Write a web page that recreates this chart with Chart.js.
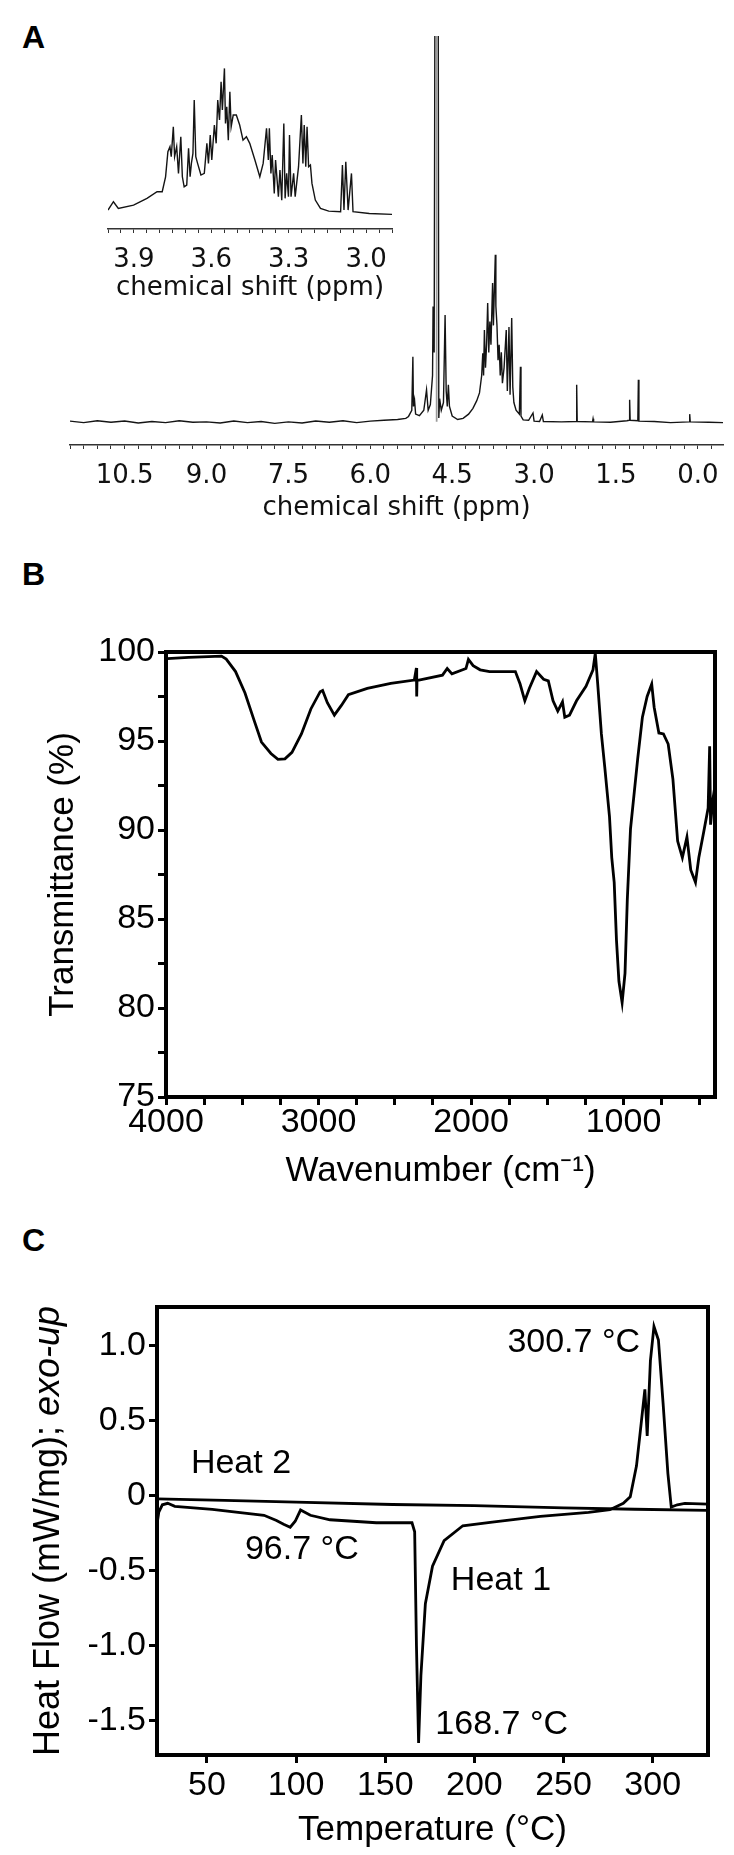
<!DOCTYPE html>
<html>
<head>
<meta charset="utf-8">
<script src="https://cdn.jsdelivr.net/npm/chart.js@4.4.1/dist/chart.umd.min.js"></script>
<style>
  html, body { margin: 0; padding: 0; background: #fff; }
  body { width: 734px; height: 1855px; position: relative; overflow: hidden; }
  canvas { position: absolute; }
  .letter { position: absolute; left: 22px; font: bold 32px "Liberation Sans", Arial, sans-serif; line-height: 1; color: #000; }
</style>
</head>
<body>
<div class="letter" style="top:21px">A</div>
<div class="letter" style="top:558px">B</div>
<div class="letter" style="top:1224px">C</div>

<canvas id="nmr" width="734" height="530" style="left:0;top:0"></canvas>
<canvas id="inset" width="320" height="280" style="left:90px;top:40px"></canvas>
<canvas id="ftir" width="734" height="610" style="left:0;top:590px"></canvas>
<canvas id="dsc" width="734" height="655" style="left:0;top:1200px"></canvas>

<script>
// ---- A: 1H NMR (main spectrum) ----
const nmrShift = [11.5, 11.25, 11.0, 10.75, 10.5, 10.25, 10.0, 9.75, 9.5, 9.25, 9.0, 8.75, 8.5, 8.25, 8.0,
  7.75, 7.5, 7.25, 7.0, 6.75, 6.5, 6.25, 6.0, 5.75, 5.5, 5.35, 5.30, 5.24, 5.22, 5.21, 5.19, 5.17, 5.10,
  5.02, 4.97, 4.94, 4.90, 4.86, 4.85, 4.83, 4.81, 4.76, 4.745, 4.73, 4.70, 4.66, 4.63, 4.61, 4.59, 4.57,
  4.55, 4.50, 4.40, 4.30, 4.20, 4.12, 4.05, 4.00, 3.96, 3.94, 3.925, 3.91, 3.89, 3.87, 3.85, 3.83, 3.81,
  3.79, 3.76, 3.745, 3.71, 3.70, 3.68, 3.66, 3.64, 3.62, 3.60, 3.58, 3.55, 3.51, 3.49, 3.46, 3.44, 3.41,
  3.39, 3.37, 3.33, 3.27, 3.25, 3.24, 3.20, 3.10, 3.02, 3.00, 2.90, 2.85, 2.83, 2.50, 2.23, 2.22, 2.21,
  1.93, 1.92, 1.91, 1.60, 1.30, 1.26, 1.25, 1.24, 1.10, 1.09, 1.08, 0.80, 0.50, 0.16, 0.15, 0.14, -0.20, -0.46];
const nmrIntensity = [0.2, -0.2, 0.3, -0.1, 0.2, -0.3, 0.1, -0.2, 0.3, -0.1, 0.0, -0.3, 0.2, -0.2, 0.1,
  -0.4, 0.0, -0.3, 0.2, -0.1, 0.3, -0.2, 0.2, 0.4, 0.6, 0.9, 1.4, 3.0, 16.9, 4.0, 5.7, 2.0, 1.6,
  3.0, 8.3, 3.0, 4.5, 12.0, 29.9, 18.0, 150, 150, 1.0, 6.0, 3.0, 5.0, 27.7, 8.0, 4.0, 9.6,
  4.0, 1.5, 0.6, 0.9, 2.0, 3.5, 5.5, 7.5, 12.0, 17.8, 12.0, 23.8, 14.0, 20.0, 30.8, 18.0, 26.0,
  20.0, 36.0, 25.0, 43.3, 30.0, 25.0, 16.0, 20.0, 12.0, 18.0, 10.0, 14.0, 23.8, 8.0, 24.6, 7.0, 26.9,
  9.0, 5.0, 3.0, 2.0, 14.3, 1.5, 0.5, 0.4, 2.3, 0.2, 0.1, 1.8, 0.1, 0.0, 0.1, 9.6, 0.1,
  0.0, 0.8, 0.0, -0.1, 0.3, 0.4, 5.7, 0.4, 0.3, 10.9, 0.2, 0.1, -0.2, 0.0, 2.0, 0.0, -0.1, -0.2];
// solvent (HDO) peak body, runs off the top
const waterShift = [4.805, 4.805, 4.765, 4.765];
const waterIntensity = [0, 150, 150, 0];
const nmrLabelled = [10.5, 9.0, 7.5, 6.0, 4.5, 3.0, 1.5, 0.0];

// ---- A: inset 4.0-2.9 ppm ----
const insetShift = [4.00, 3.979, 3.960, 3.901, 3.849, 3.810, 3.790, 3.777, 3.768, 3.760, 3.755, 3.747,
  3.742, 3.734, 3.727, 3.718, 3.712, 3.705, 3.695, 3.688, 3.682, 3.677, 3.671, 3.666, 3.660, 3.653,
  3.640, 3.627, 3.617, 3.611, 3.604, 3.598, 3.588, 3.581, 3.575, 3.568, 3.562, 3.557, 3.549, 3.545,
  3.540, 3.534, 3.528, 3.523, 3.515, 3.503, 3.490, 3.477, 3.464, 3.451, 3.431, 3.412, 3.399, 3.386,
  3.379, 3.375, 3.369, 3.364, 3.356, 3.351, 3.340, 3.334, 3.327, 3.319, 3.314, 3.308, 3.301, 3.297,
  3.291, 3.281, 3.275, 3.262, 3.251, 3.245, 3.240, 3.234, 3.229, 3.223, 3.216, 3.210, 3.197, 3.177,
  3.145, 3.099, 3.092, 3.086, 3.079, 3.070, 3.057, 3.051, 2.988, 2.90];
const insetIntensity = [3.4, 9.1, 4.5, 6.8, 11.4, 15.9, 15.9, 26.1, 43.2, 46.6, 39.8, 60.2,
  39.8, 46.6, 28.4, 53.4, 26.1, 19.3, 20.5, 45.5, 26.1, 35.2, 42.0, 78.4, 39.8, 35.2,
  27.3, 28.4, 48.9, 35.2, 54.5, 37.5, 61.4, 48.9, 78.4, 64.8, 90.9, 71.6, 100, 62.5,
  73.9, 51.1, 84.1, 60.2, 68.2, 68.2, 61.4, 51.1, 53.4, 48.9, 37.5, 26.1, 35.2, 59.1,
  37.5, 59.1, 28.4, 40.9, 14.8, 37.5, 12.5, 30.7, 10.2, 62.5, 11.4, 28.4, 12.5, 54.5,
  12.5, 28.4, 12.5, 33.0, 68.2, 35.2, 61.4, 33.0, 60.2, 33.0, 34.1, 21.6, 10.2, 4.5,
  2.7, 2.3, 34.1, 3.4, 36.4, 3.4, 28.4, 2.3, 1.1, 0.5];
const insetLabelled = [3.9, 3.6, 3.3, 3.0];

// ---- B: FTIR ----
const irWavenumber = [4000, 3991, 3852, 3636, 3605, 3544, 3482, 3420, 3374, 3312, 3266, 3220, 3174, 3112,
  3050, 2989, 2973, 2942, 2896, 2850, 2804, 2680, 2526, 2372, 2358, 2356, 2354, 2341, 2187, 2156, 2125,
  2033, 2017, 1986, 1940, 1878, 1709, 1678, 1647, 1617, 1570, 1524, 1493, 1462, 1431, 1400, 1385, 1354,
  1308, 1246, 1200, 1185, 1169, 1145, 1123, 1092, 1077, 1061, 1046, 1030, 1009, 990, 975, 954, 929, 907,
  876, 845, 815, 799, 768, 738, 707, 676, 645, 614, 584, 559, 528, 506, 475, 445, 435, 429, 414, 400];
const irTransmittance = [99.65, 99.63, 99.7, 99.77, 99.6, 98.9, 97.7, 96.1, 94.94, 94.3, 93.97, 94.0, 94.36, 95.4,
  96.8, 97.77, 97.84, 97.15, 96.45, 97.0, 97.6, 97.96, 98.24, 98.42, 99.1, 97.5, 98.42, 98.42, 98.7, 99.07, 98.77,
  99.07, 99.58, 99.23, 99.0, 98.9, 98.9, 98.2, 97.26, 97.96, 98.9, 98.47, 98.38, 97.26, 96.68, 97.2, 96.34, 96.45,
  97.26, 98.07, 99.0, 99.93, 98.2, 95.4, 93.55, 90.77, 88.45, 87.06, 83.8, 81.5, 80.3, 81.96, 86.1, 90.07, 92.16, 94.0,
  96.34, 97.5, 98.2, 96.9, 95.45, 95.4, 94.83, 92.86, 89.38, 88.45, 89.6, 87.76, 87.06, 88.45, 89.84, 91.23, 94.7, 90.3, 91.7, 92.5];
const irXLabelled = [1000, 2000, 3000, 4000];
const irYLabelled = [75, 80, 85, 90, 95, 100];

// ---- C: DSC ----
const heat1Temp = [22, 23, 25, 28, 32, 53, 82, 89, 93, 96.7, 99.5, 102.5, 108, 119, 145, 165, 166.5, 167.5,
  168.7, 170, 172.5, 176.5, 183, 193.5, 210, 237, 264, 276, 283.5, 287.4, 290.9, 293.5, 295.6, 296.9,
  298.7, 300.7, 303.2, 305.8, 308.5, 310.4, 313.8, 318, 331];
const heat1Flow = [-0.19, -0.11, -0.06, -0.05, -0.07, -0.09, -0.13, -0.165, -0.19, -0.21, -0.17, -0.095,
  -0.13, -0.16, -0.18, -0.18, -0.24, -1.0, -1.65, -1.2, -0.72, -0.47, -0.30, -0.20, -0.176, -0.137, -0.11,
  -0.093, -0.05, -0.006, 0.20, 0.48, 0.71, 0.40, 0.90, 1.13, 1.04, 0.62, 0.15, -0.075, -0.06, -0.05, -0.055];
const heat2Temp = [22, 60, 100, 154, 200, 250, 290, 331];
const heat2Flow = [-0.02, -0.03, -0.042, -0.058, -0.066, -0.08, -0.09, -0.098];
const dscXLabelled = [50, 100, 150, 200, 250, 300];
const dscYLabelled = [-1.5, -1.0, -0.5, 0, 0.5, 1.0];
const dscNotes = [
  { text: '300.7 °C', x: 292.9, y: 1.02, align: 'right' },
  { text: 'Heat 2', x: 41, y: 0.213, align: 'left' },
  { text: '96.7 °C', x: 71.3, y: -0.362, align: 'left' },
  { text: 'Heat 1', x: 186.8, y: -0.567, align: 'left' },
  { text: '168.7 °C', x: 178.1, y: -1.526, align: 'left' }
];

const NMR_FONT = '"DejaVu Sans", Tahoma, sans-serif';
const ARIAL = '"Liberation Sans", Arial, sans-serif';

Chart.defaults.animation = false;
Chart.defaults.events = [];
Chart.defaults.plugins.legend.display = false;
Chart.defaults.plugins.tooltip.enabled = false;

const pts = (xs, ys) => xs.map((x, i) => ({ x, y: ys[i] }));
const onlyAt = (list, fmt) => v => {
  const hit = list.find(t => Math.abs(t - v) < 1e-6);
  return hit === undefined ? '' : fmt(hit);
};

const frame = {
  id: 'frame',
  afterDraw(chart, args, o) {
    const { ctx, chartArea: a } = chart;
    ctx.save();
    ctx.lineWidth = o.width;
    ctx.strokeStyle = '#000';
    ctx.strokeRect(a.left, a.top, a.right - a.left, a.bottom - a.top);
    ctx.restore();
  }
};

const notes = {
  id: 'notes',
  afterDatasetsDraw(chart, args, o) {
    const { ctx, scales: { x, y } } = chart;
    ctx.save();
    ctx.font = o.size + 'px ' + ARIAL;
    ctx.fillStyle = '#000';
    ctx.textBaseline = 'middle';
    o.items.forEach(n => {
      ctx.textAlign = n.align;
      ctx.fillText(n.text, x.getPixelForValue(n.x), y.getPixelForValue(n.y));
    });
    ctx.restore();
  }
};

// y title with italic tail
const yTitle = {
  id: 'yTitle',
  afterDraw(chart, args, o) {
    const { ctx, chartArea: a } = chart;
    const f1 = o.size + 'px ' + ARIAL, f2 = 'italic ' + o.size + 'px ' + ARIAL;
    ctx.save();
    ctx.translate(o.x, (a.top + a.bottom) / 2);
    ctx.rotate(-Math.PI / 2);
    ctx.fillStyle = '#000';
    ctx.textBaseline = 'middle';
    ctx.textAlign = 'left';
    ctx.font = f1; const w1 = ctx.measureText(o.text).width;
    ctx.font = f2; const w2 = ctx.measureText(o.italic).width;
    const x0 = -(w1 + w2) / 2;
    ctx.font = f1; ctx.fillText(o.text, x0, 0);
    ctx.font = f2; ctx.fillText(o.italic, x0 + w1, 0);
    ctx.restore();
  }
};

// ---------- A main ----------
new Chart(document.getElementById('nmr'), {
  type: 'line',
  data: {
    datasets: [
      { data: pts(waterShift, waterIntensity), borderWidth: 0, backgroundColor: '#9a9a9a', fill: 'origin', pointRadius: 0 },
      { data: pts(nmrShift, nmrIntensity), borderColor: '#141414', borderWidth: 1.4, pointRadius: 0, fill: false }
    ]
  },
  options: {
    responsive: false,
    layout: { padding: { left: 70, right: 11, top: 36, bottom: 0 } },
    scales: {
      x: {
        type: 'linear', reverse: true, min: -0.46, max: 11.5,
        afterFit: s => { s.height = 85; },
        ticks: { stepSize: 0.25, includeBounds: false, autoSkip: false, maxRotation: 0, padding: 12,
          color: '#111', font: { family: NMR_FONT, size: 26 }, callback: onlyAt(nmrLabelled, v => v.toFixed(1)) },
        grid: { drawOnChartArea: false, tickLength: 4, tickColor: '#333', tickWidth: 1 },
        border: { display: true, color: '#333', width: 1.5 },
        title: { display: true, text: 'chemical shift (ppm)', color: '#111',
          font: { family: NMR_FONT, size: 26 }, padding: { top: 0, bottom: 6 } }
      },
      y: { display: false, min: -6, max: 100 }
    }
  }
});

// ---------- A inset ----------
new Chart(document.getElementById('inset'), {
  type: 'line',
  data: { datasets: [{ data: pts(insetShift, insetIntensity), borderColor: '#141414', borderWidth: 1.4, pointRadius: 0 }] },
  options: {
    responsive: false,
    layout: { padding: { left: 18, right: 18, top: 13, bottom: 0 } },
    scales: {
      x: {
        type: 'linear', reverse: true, min: 2.9, max: 4.0,
        afterFit: s => { s.height = 91; },
        ticks: { stepSize: 0.05, includeBounds: false, autoSkip: false, maxRotation: 0, padding: 12,
          color: '#111', font: { family: NMR_FONT, size: 26 }, callback: onlyAt(insetLabelled, v => v.toFixed(1)) },
        grid: { drawOnChartArea: false, tickLength: 4, tickColor: '#333', tickWidth: 1 },
        border: { display: true, color: '#333', width: 1.5 },
        title: { display: true, text: 'chemical shift (ppm)', color: '#111',
          font: { family: NMR_FONT, size: 26 }, padding: { top: 0, bottom: 16 } }
      },
      y: { display: false, min: -9.5, max: 110.5 }
    }
  }
});

// ---------- B FTIR ----------
new Chart(document.getElementById('ftir'), {
  type: 'line',
  data: { datasets: [{ data: pts(irWavenumber, irTransmittance), borderColor: '#000', borderWidth: 2.8, pointRadius: 0 }] },
  options: {
    responsive: false,
    layout: { padding: { left: 0, right: 19, top: 62, bottom: 0 } },
    plugins: { frame: { width: 4 } },
    scales: {
      x: {
        type: 'linear', reverse: true, min: 400, max: 4000,
        afterFit: s => { s.height = 103; },
        ticks: { stepSize: 250, includeBounds: false, autoSkip: false, maxRotation: 0, padding: -3,
          color: '#000', font: { family: ARIAL, size: 34 }, callback: onlyAt(irXLabelled, v => String(v)) },
        grid: { drawOnChartArea: false, tickLength: 8, tickColor: '#000', tickWidth: 3 },
        border: { display: false },
        title: { display: true, text: 'Wavenumber (cm\u207B\u00B9)', color: '#000',
          font: { family: ARIAL, size: 35 }, padding: { top: 0, bottom: 8 } }
      },
      y: {
        min: 75, max: 100,
        afterFit: s => { s.width = 166; },
        ticks: { stepSize: 2.5, includeBounds: false, autoSkip: false, padding: 3,
          color: '#000', font: { family: ARIAL, size: 34 }, callback: onlyAt(irYLabelled, v => String(v)) },
        grid: { drawOnChartArea: false, tickLength: 8, tickColor: '#000', tickWidth: 3 },
        border: { display: false },
        title: { display: true, text: 'Transmittance (%)', color: '#000',
          font: { family: ARIAL, size: 35 }, padding: { top: 42, bottom: 0 } }
      }
    }
  },
  plugins: [frame]
});

// ---------- C DSC ----------
new Chart(document.getElementById('dsc'), {
  type: 'line',
  data: {
    datasets: [
      { data: pts(heat2Temp, heat2Flow), borderColor: '#000', borderWidth: 2.8, pointRadius: 0 },
      { data: pts(heat1Temp, heat1Flow), borderColor: '#000', borderWidth: 2.8, pointRadius: 0 }
    ]
  },
  options: {
    responsive: false,
    layout: { padding: { left: 0, right: 26, top: 107, bottom: 0 } },
    plugins: {
      frame: { width: 4 },
      notes: { size: 34, items: dscNotes },
      yTitle: { x: 49, size: 36, text: 'Heat Flow (mW/mg); ', italic: 'exo-up' }
    },
    scales: {
      x: {
        type: 'linear', min: 22, max: 331,
        afterFit: s => { s.height = 100; },
        ticks: { stepSize: 50, includeBounds: false, autoSkip: false, maxRotation: 0, padding: 2,
          color: '#000', font: { family: ARIAL, size: 34 }, callback: onlyAt(dscXLabelled, v => String(v)) },
        grid: { drawOnChartArea: false, tickLength: 8, tickColor: '#000', tickWidth: 3 },
        border: { display: false },
        title: { display: true, text: 'Temperature (°C)', color: '#000',
          font: { family: ARIAL, size: 35 }, padding: { top: 0, bottom: 4 } }
      },
      y: {
        min: -1.73, max: 1.26,
        afterFit: s => { s.width = 157; },
        ticks: { stepSize: 0.5, includeBounds: false, autoSkip: false, padding: 3,
          color: '#000', font: { family: ARIAL, size: 34 }, callback: onlyAt(dscYLabelled, v => v === 0 ? '0' : v.toFixed(1)) },
        grid: { drawOnChartArea: false, tickLength: 8, tickColor: '#000', tickWidth: 3 },
        border: { display: false }
      }
    }
  },
  plugins: [frame, notes, yTitle]
});
</script>
</body>
</html>
